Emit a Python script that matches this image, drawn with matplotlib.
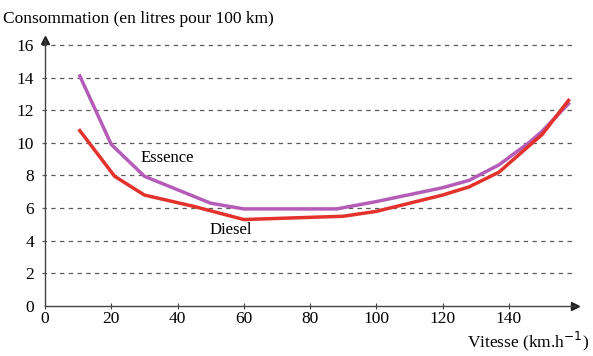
import numpy as np
import matplotlib
matplotlib.use("Agg")
import matplotlib.pyplot as plt

plt.rcParams['font.family'] = ['Liberation Serif', 'DejaVu Serif']

# Consommation (L/100 km) en fonction de la vitesse (km/h)
v_essence = [10.5, 20, 30, 50, 60, 88, 100, 120, 128, 137, 146, 150, 158]
c_essence = [14.1, 9.9, 7.95, 6.3, 5.95, 5.95, 6.4, 7.25, 7.7, 8.65, 10.0, 10.7, 12.4]
v_diesel = [10.5, 21, 30, 45, 60, 90, 100, 120, 128, 137, 146, 150, 158]
c_diesel = [10.75, 7.95, 6.8, 6.1, 5.3, 5.5, 5.8, 6.8, 7.3, 8.2, 9.8, 10.5, 12.6]
x_ticks = [0, 20, 40, 60, 80, 100, 120, 140]
y_ticks = [0, 2, 4, 6, 8, 10, 12, 14, 16]

fig = plt.figure(figsize=(5.93, 3.56), dpi=100)
ax = fig.add_axes([0.0759, 0.1404, 0.894, 0.7472])

for yv in y_ticks[1:]:
    ax.plot([-1, 160], [yv, yv], color='#5a5a5a', linestyle=(0, (3.5, 3.5)),
            linewidth=0.9, zorder=1, clip_on=False)

ax.plot(v_essence, c_essence, color='#b55cb8', linewidth=2.5, zorder=2,
        solid_joinstyle='round')
ax.plot(v_diesel, c_diesel, color='#e2322b', linewidth=2.5, zorder=3,
        solid_joinstyle='round')

ax.text(28.7, 9.1, 'Essence', fontsize=12, ha='left', va='center')
ax.text(49.5, 4.65, 'Diesel', fontsize=12, ha='left', va='center')

ax.set_xlim(0, 160)
ax.set_ylim(0, 16.3)
for s in ['top', 'right']:
    ax.spines[s].set_visible(False)
for s in ['left', 'bottom']:
    ax.spines[s].set_color('#444444')
    ax.spines[s].set_linewidth(1.0)
ax.plot(1, 0, '>', color='#222222', markersize=6, transform=ax.transAxes,
        clip_on=False)
ax.plot(0, 1, '^', color='#222222', markersize=6, transform=ax.transAxes,
        clip_on=False)

ax.set_xticks(x_ticks)
ax.set_yticks(y_ticks)
ax.tick_params(axis='x', direction='inout', length=5, labelsize=12.5, pad=1,
               color='#444444')
ax.tick_params(axis='y', length=0, labelsize=12.5, pad=8)

fig.text(0.005, 0.948, 'Consommation (en litres pour 100 km)', fontsize=12.5,
         ha='left', va='center')
fig.text(0.993, 0.04, 'Vitesse (km.h$^{-1}$)', fontsize=12.5,
         ha='right', va='center')

fig.savefig('out.png', dpi=100)
